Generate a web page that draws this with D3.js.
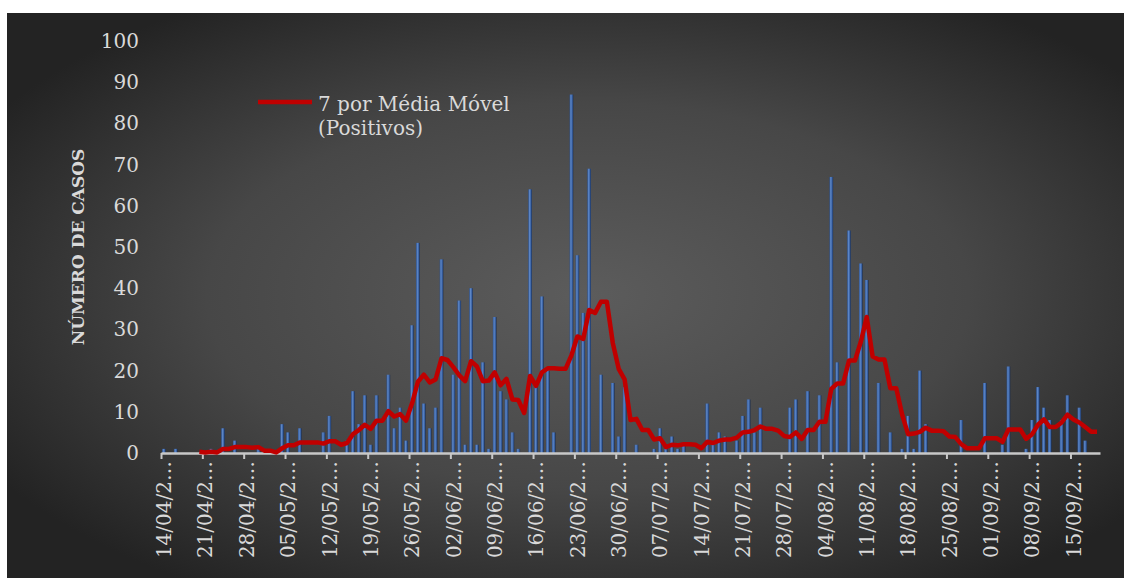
<!DOCTYPE html>
<html lang="pt">
<head>
<meta charset="UTF-8">
<title>Número de casos</title>
<script src="https://d3js.org/d3.v7.min.js"></script>
<style>
    body { margin: 0; background: #ffffff; }
    svg { display: block; }
    .tick text { font-family: 'DejaVu Serif', serif; fill: #d9d9d9; }
</style>
</head>
<body>
<svg id="chart" width="1131" height="583"></svg>
<script>
// daily positives, 14/04/2020 .. 19/09/2020
let firstDay = new Date(2020, 3, 14)
let lastDay = new Date(2020, 8, 20)
let casos = [
    1, 0, 1, 0, 0, 0, 0, 0, 1, 0, 6, 0, 3, 0, 0, 0, 1, 0, 0, 0,
    7, 5, 0, 6, 0, 0, 0, 5, 9, 0, 0, 3, 15, 7, 14, 2, 14, 0, 19, 6,
    11, 3, 31, 51, 12, 6, 11, 47, 0, 19, 37, 2, 40, 2, 22, 1, 33, 15, 13, 5,
    1, 0, 64, 16, 38, 20, 5, 0, 0, 87, 48, 34, 69, 0, 19, 0, 17, 4, 16, 0,
    2, 0, 0, 1, 6, 1, 4, 1, 2, 0, 0, 0, 12, 2, 5, 4, 0, 3, 9, 13,
    5, 11, 0, 0, 0, 0, 11, 13, 0, 15, 0, 14, 0, 67, 22, 0, 54, 0, 46, 42,
    0, 17, 0, 5, 0, 1, 9, 1, 20, 7, 0, 0, 0, 0, 0, 8, 0, 0, 0, 17,
    0, 0, 2, 21, 0, 0, 1, 8, 16, 11, 8, 0, 8, 14, 0, 11, 3, 0, 0
]
let yTicks = [0, 10, 20, 30, 40, 50, 60, 70, 80, 90, 100]
let legendText = ['7 por Média Móvel', '(Positivos)']
let yTitle = 'NÚMERO DE CASOS'
let periodo = 7

let dias = d3.timeDay.range(firstDay, lastDay)
let fmt = d3.timeFormat('%d/%m/%Y')
let labels = dias.map(d => fmt(d))
let data = labels.map((lab, i) => ({label: lab, v: casos[i]}))

// trendline: 7-period moving average of the bars, like the spreadsheet one
let media = data.slice(periodo - 1).map((d, k) => ({
    label: d.label,
    v: d3.mean(casos.slice(k, k + periodo))
}))

let svg = d3.select('#chart')
let plot = {left: 161, right: 1100, top: 41, bottom: 453}

let defs = svg.append('defs')
let bg = defs.append('radialGradient').attr('id', 'bg')
    .attr('cx', 0.52).attr('cy', 0.5).attr('r', 0.62)
bg.append('stop').attr('offset', 0).attr('stop-color', '#5c5c5c')
bg.append('stop').attr('offset', 0.55).attr('stop-color', '#474747')
bg.append('stop').attr('offset', 1).attr('stop-color', '#232323')

let barGrad = defs.append('linearGradient').attr('id', 'barGrad')
    .attr('x1', 0).attr('x2', 1).attr('y1', 0).attr('y2', 0)
barGrad.append('stop').attr('offset', 0).attr('stop-color', '#2c5290')
barGrad.append('stop').attr('offset', 0.35).attr('stop-color', '#5d86c6')
barGrad.append('stop').attr('offset', 0.7).attr('stop-color', '#3a63a6')
barGrad.append('stop').attr('offset', 1).attr('stop-color', '#182c50')

svg.append('rect')
    .attr('x', 7).attr('y', 13)
    .attr('width', 1117).attr('height', 565)
    .attr('fill', 'url(#bg)')

let x = d3.scaleBand()
    .domain(labels)
    .range([plot.left, plot.right])
    .paddingInner(0.38)
    .paddingOuter(0.19)
let xEdge = d3.scaleLinear().domain([0, labels.length]).range([plot.left, plot.right])
let y = d3.scaleLinear().domain([0, 100]).range([plot.bottom, plot.top])

// y axis, labels only
let yAxis = svg.append('g')
    .attr('transform', `translate(${plot.left},0)`)
    .call(d3.axisLeft(y).tickValues(yTicks).tickSize(0).tickPadding(22))
yAxis.select('.domain').remove()
yAxis.selectAll('text').style('font-size', '20px')

// bars
svg.append('g').selectAll('rect')
    .data(data)
    .enter()
    .append('rect')
    .attr('x', d => x(d.label))
    .attr('width', x.bandwidth())
    .attr('y', d => y(d.v))
    .attr('height', d => y(0) - y(d.v))
    .attr('fill', 'url(#barGrad)')

// x axis line + ticks between categories
let xTicks = svg.append('g')
    .attr('transform', `translate(0,${plot.bottom})`)
    .call(d3.axisBottom(xEdge)
        .tickValues(d3.range(0, labels.length, periodo))
        .tickSize(6).tickSizeOuter(0).tickFormat(''))
xTicks.select('.domain').attr('stroke', '#c8c8c8').attr('stroke-width', 2.5)
xTicks.selectAll('.tick line').attr('stroke', '#c8c8c8').attr('stroke-width', 2)

// date labels, every 7th day, cut like the spreadsheet does
let xLabels = svg.append('g')
    .attr('transform', `translate(0,${plot.bottom})`)
    .call(d3.axisBottom(x)
        .tickValues(labels.filter((d, i) => i % periodo == 0))
        .tickSize(0)
        .tickFormat(d => d.slice(0, 7) + '…'))
xLabels.select('.domain').remove()
xLabels.selectAll('text')
    .style('font-size', '20px')
    .attr('transform', 'rotate(-90)')
    .attr('text-anchor', 'end')
    .attr('x', -8)
    .attr('y', 0)
    .attr('dy', '0.36em')

// moving average line
let line = d3.line()
    .x(d => x(d.label) + x.bandwidth() / 2)
    .y(d => y(d.v))
svg.append('path')
    .datum(media)
    .attr('d', line)
    .attr('fill', 'none')
    .attr('stroke', '#c00000')
    .attr('stroke-width', 4.5)
    .attr('stroke-linejoin', 'round')

// legend
svg.append('line')
    .attr('x1', 258).attr('x2', 312)
    .attr('y1', 102).attr('y2', 102)
    .attr('stroke', '#c00000').attr('stroke-width', 4.5)
svg.append('g').selectAll('text')
    .data(legendText)
    .enter()
    .append('text')
    .attr('x', 318)
    .attr('y', (d, i) => 111 + i * 24)
    .style('font-family', "'DejaVu Serif', serif")
    .style('font-size', '20px')
    .attr('fill', '#d9d9d9')
    .text(d => d)

// y axis title
svg.append('text')
    .attr('transform', `translate(84,${(plot.top + plot.bottom) / 2}) rotate(-90)`)
    .attr('text-anchor', 'middle')
    .style('font-family', "'DejaVu Serif', serif")
    .style('font-size', '17px')
    .style('font-weight', 'bold')
    .attr('fill', '#d9d9d9')
    .text(yTitle)
</script>
</body>
</html>
